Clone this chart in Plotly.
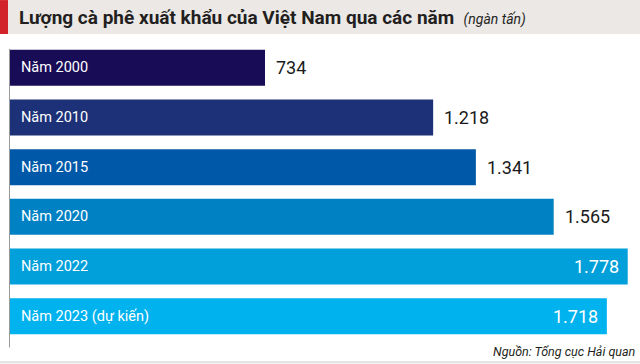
import plotly.graph_objects as go

# ---- data ----
categories = ["Năm 2000", "Năm 2010", "Năm 2015", "Năm 2020", "Năm 2022", "Năm 2023 (dự kiến)"]
values = [734, 1218, 1341, 1565, 1778, 1718]
bar_colors = ["#190c57", "#1c3177", "#0059a8", "#0081c3", "#01a0da", "#00b2ee"]
value_inside = [False, False, False, False, True, True]

title_main = "Lượng cà phê xuất khẩu của Việt Nam qua các năm"
title_unit = "(ngàn tấn)"
source_text = "Nguồn: Tổng cục Hải quan"

W, H = 640, 364
ML, MR, MT, MB = 10, 0, 43, 22.5
PW, PH = W - ML - MR, H - MT - MB


def px_x(p):
    return (p - ML) / PW


def px_y(p):
    return (H - MB - p) / PH


def fmt(v):
    return f"{v:,}".replace(",", ".")


fig = go.Figure()
fig.add_trace(go.Bar(
    x=values, y=categories, orientation="h",
    marker=dict(color=bar_colors, line=dict(width=0)),
    hoverinfo="skip", showlegend=False,
))

annotations = []
for cat, v, inside in zip(categories, values, value_inside):
    annotations.append(dict(
        x=0, y=cat, xref="x", yref="y", text=cat, showarrow=False,
        xanchor="left", xshift=9, font=dict(family="Roboto", size=14.5, color="white"),
    ))
    annotations.append(dict(
        x=v, y=cat, xref="x", yref="y", text=fmt(v), showarrow=False,
        xanchor="right" if inside else "left", xshift=-7 if inside else 9,
        font=dict(family="Roboto", size=18, color="white" if inside else "#1a1a1a"),
    ))

annotations.append(dict(
    x=px_x(17), y=px_y(17.5), xref="paper", yref="paper", showarrow=False,
    xanchor="left", yanchor="middle",
    text=f"<b>{title_main}</b>  <i><span style='font-size:14px'>{title_unit}</span></i>",
    font=dict(family="Roboto", size=19, color="#231f20"),
))
annotations.append(dict(
    x=px_x(638), y=px_y(352), xref="paper", yref="paper", showarrow=False,
    xanchor="right", yanchor="middle",
    text=f"<i>{source_text}</i>",
    font=dict(family="Roboto", size=12.5, color="#231f20"),
))

shapes = [
    dict(type="rect", xref="paper", yref="paper", x0=px_x(0), x1=px_x(640), y0=px_y(34), y1=px_y(0),
         fillcolor="#ebe8e6", line=dict(width=0), layer="below"),
    dict(type="rect", xref="paper", yref="paper", x0=px_x(0), x1=px_x(8), y0=px_y(34), y1=px_y(0),
         fillcolor="#d2232a", line=dict(width=0), layer="below"),
    dict(type="line", xref="paper", yref="paper", x0=px_x(9.5), x1=px_x(9.5), y0=px_y(348), y1=px_y(49),
         line=dict(color="#9a9a9a", width=1)),
    dict(type="rect", xref="paper", yref="paper", x0=px_x(0), x1=px_x(640), y0=px_y(364), y1=px_y(361.5),
         fillcolor="#e4e4e4", line=dict(width=0), layer="below"),
]

fig.update_layout(
    width=W, height=H,
    margin=dict(l=ML, r=MR, t=MT, b=MB, pad=0),
    paper_bgcolor="white", plot_bgcolor="white",
    bargap=0.276,
    xaxis=dict(range=[0, PW / (255 / 734)], visible=False, fixedrange=True),
    yaxis=dict(autorange="reversed", visible=False, fixedrange=True),
    annotations=annotations, shapes=shapes,
)

fig.write_html(
    "out.html",
    config={"displayModeBar": False},
    post_script="document.body.style.margin='0';document.body.style.padding='0';document.body.style.overflow='hidden';",
)
